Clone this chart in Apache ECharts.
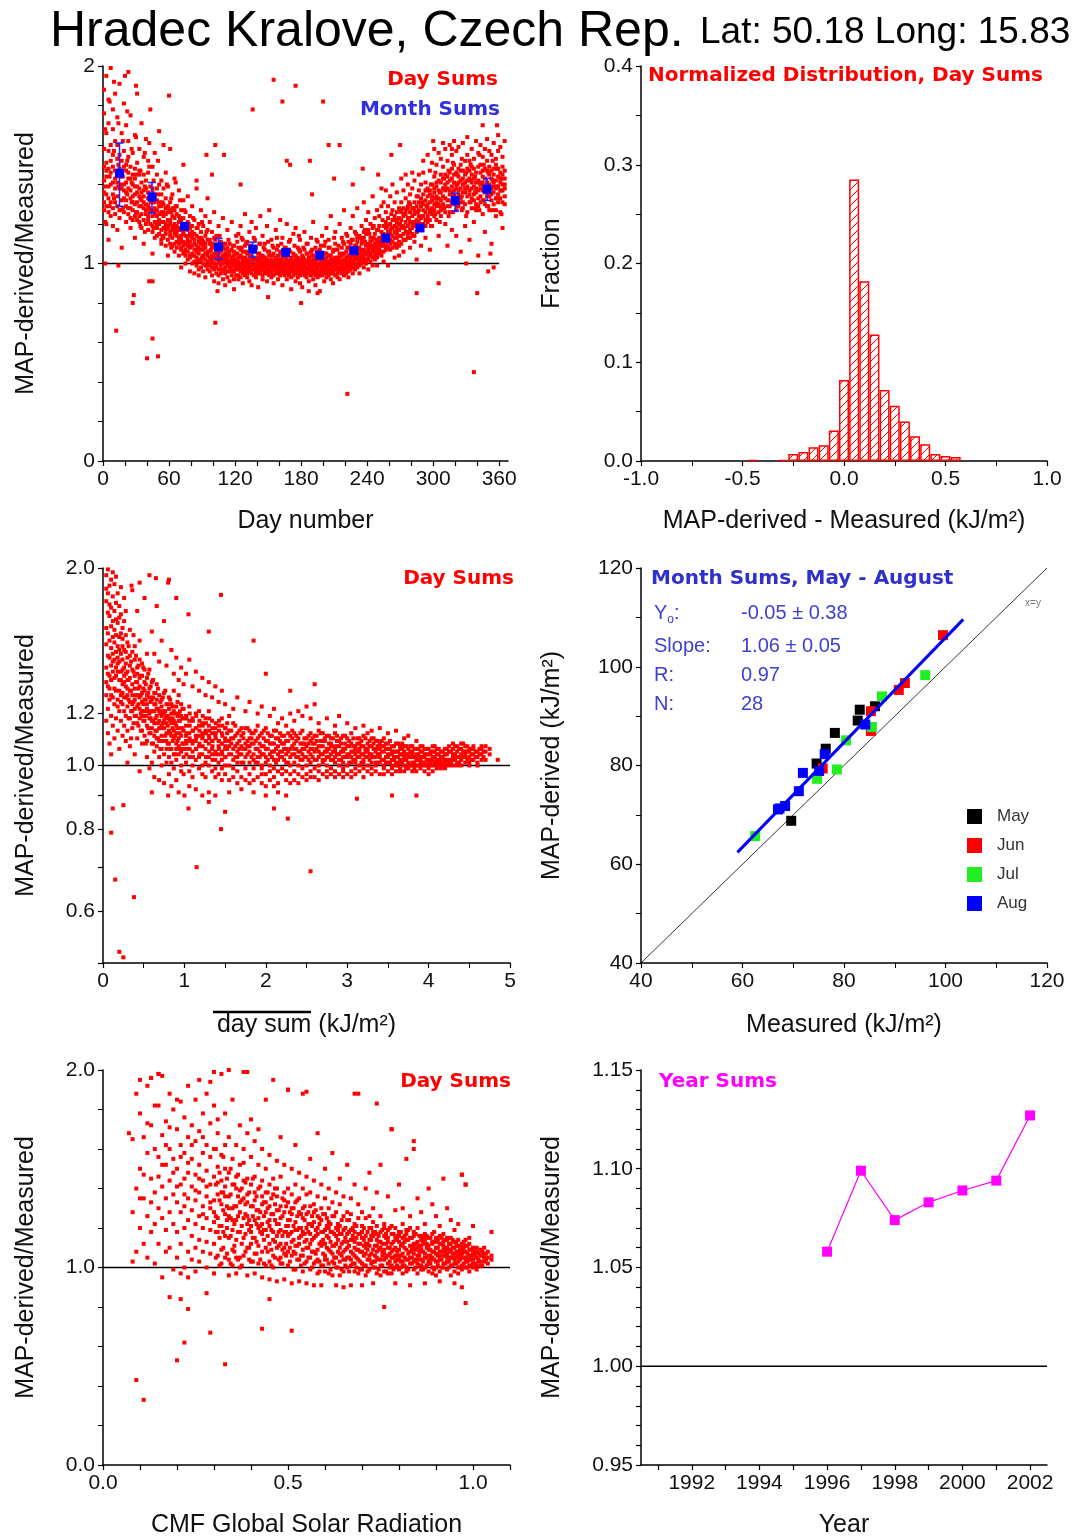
<!DOCTYPE html>
<html>
<head>
<meta charset="utf-8">
<script src="https://cdn.jsdelivr.net/npm/echarts@6/dist/echarts.min.js"></script>
<style>
  html, body { margin: 0; padding: 0; background: #fff; }
  #main { width: 1076px; height: 1540px; }
</style>
</head>
<body>
<div id="main"></div>
<script>
// ---- panel 1: ratio (x100) vs day number, day sums, columns "day:ratios"
const dayRatioCols = `
1:142,158,131,176,127,149,188,136 3:135,151,166,129,144,195,120,147 5:157,139,126,171,148,133,183,112
7:131,146,160,152,199,124,140 9:149,135,128,168,141,119,178,155 11:138,162,131,147,186,125,143
13:153,129,141,134,174,117,146,160 15:127,144,155,138,191,148,123 17:146,138,152,127,166,132,108,140
19:133,157,140,126,181,149,137 21:141,129,150,136,147,121,170,132 23:128,146,138,125,162,143,197,154
25:149,137,128,143,133,175,118,123 27:134,127,140,156,122,145,131 29:143,124,148,130,139,165,113,135
31:126,139,131,151,136,122,186 33:145,129,134,121,158,138,147,124 35:132,141,125,136,118,171,129
37:122,137,128,145,131,154,110,134 39:138,125,130,142,120,163,127 41:124,133,146,117,129,136,122,152
43:131,120,126,139,134,178,127 45:119,131,138,124,116,136,105,149 47:128,121,134,113,125,156,131
49:132,118,124,127,138,114,145,120 51:122,129,115,131,120,140,167,125 53:126,117,129,121,135,112,110,142
55:113,124,130,118,121,138,126 57:125,115,120,128,133,109,146,117 59:118,126,112,122,129,104,139
61:114,120,127,116,131,110,122,158 63:124,113,119,109,128,117,135 65:110,118,123,115,127,106,143,120
67:119,111,116,125,108,129,114 69:113,121,110,117,124,104,137,118 71:117,108,114,121,107,127,98,112
73:109,115,120,111,123,105,132,116 75:114,107,119,110,104,126,100 77:106,112,117,109,121,102,134,111
79:111,104,108,118,103,124,96,115 81:116,109,105,113,119,100,129 83:104,112,107,115,101,122,110,95
85:109,103,114,106,118,99,138 87:102,108,111,105,113,97,120,94 89:107,113,101,110,116,98,127
91:104,100,109,103,111,119,96,107 93:110,99,105,114,102,108,124,93 95:101,106,112,97,104,117,133
97:106,100,103,110,96,112,121,99 99:98,104,108,101,110,94,116 101:103,109,97,105,100,113,126,91
103:99,95,106,102,108,114,104 105:105,101,97,109,94,103,119,90 107:97,103,99,106,111,95,100
109:102,96,104,100,108,92,123 111:98,105,101,95,107,110,89,103 113:104,99,96,102,108,93,117
115:96,101,106,98,104,110,91,100 117:101,97,94,103,99,107,121 119:99,104,96,101,92,109,87,106
121:97,102,100,94,105,98,114 123:99,94,97,103,101,108,92,115 125:96,100,104,98,93,107,119
127:101,97,95,99,106,102,90,112 129:98,103,96,100,94,109,125 131:95,99,102,97,105,93,101,111
133:100,96,98,104,101,91,116 135:97,102,95,99,107,103,89,121 137:99,94,101,97,103,106,113
139:96,100,98,102,93,108,95,118 141:101,97,103,95,99,105,88 143:98,95,100,102,96,110,104,124
145:94,99,97,101,104,92,114 147:100,96,98,103,95,107,101,110 149:97,101,95,99,102,91,119
151:99,94,100,97,104,106,96,127 153:95,98,102,96,100,93,112 155:100,97,94,101,99,105,108,90
157:96,99,103,98,95,102,117 159:98,95,100,97,104,92,101,109 161:94,99,96,102,98,106,122
163:100,97,95,99,103,101,89,113 165:97,94,98,101,96,105,108 167:99,96,102,95,100,92,104,120
169:95,98,101,97,94,107,111 171:98,100,96,103,99,93,102,87 173:96,99,94,97,101,105,115
175:100,95,98,102,96,91,104,118 177:97,101,95,99,103,108,93 179:94,98,100,96,102,90,106,112
181:99,96,97,101,95,104,88 183:96,100,94,98,102,107,99,116 185:98,95,101,97,93,105,110
187:95,99,97,100,103,91,102,86 189:100,96,94,98,101,106,113 191:97,99,95,102,96,92,104,121
193:94,98,101,96,100,108,89 195:99,95,97,103,98,93,105,111 197:96,100,94,99,102,107,86
199:98,94,101,97,95,104,100,114 201:95,99,97,102,100,91,109 203:100,96,98,95,103,105,93,118
205:97,101,94,99,96,108,112 207:99,95,100,97,104,92,102,124 209:96,98,102,95,101,106,90
211:101,97,99,94,103,100,110,116 213:98,100,95,102,97,93,107 215:100,96,103,98,101,105,92,120
217:97,101,99,104,95,108,113 219:102,98,100,96,105,94,110,127 221:99,103,97,101,106,95,115
223:101,98,104,100,96,108,111,93 225:103,99,102,106,97,110,118 227:100,104,101,98,107,95,112,124
229:102,106,99,103,109,97,116 231:104,100,107,102,111,98,113,128 233:101,105,103,108,99,114,95
235:106,102,104,110,100,112,119 237:103,107,105,101,113,98,116,131 239:105,109,102,106,115,100,122
241:107,104,110,106,102,117,97,126 243:104,108,111,105,113,101,120 245:109,106,103,112,107,118,99,134
247:106,110,108,104,115,102,123 249:108,112,105,110,117,103,127,99 251:111,107,113,109,105,119,124
253:109,113,110,106,116,104,129,138 255:112,106,119,110,115,131,101 257:118,109,113,121,107,126,137
259:108,116,111,123,114,99,129 261:115,120,110,107,117,134,112 263:111,118,122,108,114,127,140
265:119,109,116,113,124,103,131 267:113,121,108,118,115,136,126 269:117,111,123,109,120,128,104
271:122,114,110,126,118,143,131 273:112,124,119,115,128,106,137 275:127,116,121,112,125,133,145
277:115,123,129,119,113,140,128 279:121,113,126,117,130,108,135 281:118,128,115,124,120,138,146
283:125,119,131,114,127,111,142 285:116,129,122,126,120,134,102 287:131,121,118,127,124,145,137
289:123,117,129,133,120,140,109 291:127,135,120,130,124,146,152 293:119,132,126,137,122,141,113
295:134,124,130,121,138,128,155 297:126,137,122,131,135,147,107 299:132,128,140,125,134,151,119
301:124,136,130,138,127,144,158 303:139,129,134,122,141,131,150 305:130,142,126,137,133,156,114
307:136,127,141,132,145,124,153 309:128,138,134,143,130,149,161 311:140,133,126,145,137,158,120
313:132,144,138,129,141,152,109 315:137,129,146,135,142,126,160 317:143,136,131,148,139,155,117
319:130,141,137,145,134,150,162 321:138,146,132,140,127,157,114 323:144,135,141,129,148,137,159
325:133,142,138,150,131,147,106 327:140,131,147,136,143,128,161 329:136,145,130,141,152,138,119
331:142,134,139,148,126,155,164 333:131,147,137,143,135,152,112 335:145,138,128,141,149,133,158
337:135,143,148,132,139,153,121 339:141,130,136,146,138,127,162 341:137,149,133,142,129,156,104
343:146,134,140,131,150,138,160 345:132,141,147,137,144,125,154 347:143,136,130,148,139,158,116
349:138,147,134,141,129,152,163 351:134,140,149,136,145,127,157 353:147,132,138,143,135,155,110
355:136,145,141,130,148,139,161 357:142,133,150,138,127,153,124 359:139,148,135,144,131,157,165
361:133,141,146,137,143,126,159 363:145,137,131,149,140,154,118 365:140,134,143,138,147,130,162`;
// second pass of day sums between the columns above
const dayRatioCols2 = `
2:168,139,121 6:144,182,129 10:157,133,192 14:139,171,150 18:162,128,144 22:135,177,152
26:158,131,141 30:126,164,145 34:147,119,133 38:139,156,116 42:128,149,161 46:142,118,127
50:121,135,152 54:131,114,125 58:119,140,128 62:126,108,133 66:117,129,141 70:111,123,132
74:118,106,127 78:109,120,114 82:115,104,123 86:107,118,101 90:112,103,121 94:105,116,99
98:110,102,107 102:104,112,98 106:108,101,114 110:103,110,97 114:106,112,101 118:102,109,96
122:105,111,100 126:108,103,113 130:110,101,106 134:104,109,100 138:102,107,112 142:105,100,110
146:108,103,99 150:101,106,111 154:109,104,100 158:102,107,113 162:105,101,110 166:103,108,99
170:106,101,112 174:104,100,109 178:102,107,114 182:108,99,103 186:101,105,110 190:104,100,107
194:106,102,112 198:103,99,109 202:101,105,111 206:104,100,108 210:107,102,113 214:103,101,109
218:105,100,111 222:103,108,114 226:106,101,112 230:104,109,115 234:107,103,113 238:111,105,117
242:109,115,104 246:119,107,113 250:106,117,111 254:115,109,122 258:108,119,113 262:125,111,118
266:116,122,110 270:120,127,114 274:112,125,118 278:131,116,123 282:121,128,114 286:126,119,134
290:131,117,124 294:122,137,129 298:140,127,119 302:125,146,133 306:136,121,129 310:128,143,138
314:147,132,124 318:135,126,151 322:129,140,145 326:153,134,127 330:138,124,146 334:131,150,142
338:144,136,128 342:127,141,155 346:150,132,139 350:136,146,129 354:142,127,152 358:133,148,139
362:125,143,137`;
const dayRatioOutliers = [
  [12, 0.66], [14, 0.99], [28, 0.84], [27, 0.8], [42, 0.91], [45, 0.91], [45, 0.62], [40, 0.52],
  [50, 0.53], [102, 0.7], [104, 0.86], [102, 1.6], [85, 1.42], [110, 1.55], [136, 1.78], [155, 1.93],
  [163, 1.82], [175, 1.9], [167, 1.52], [170, 1.5], [188, 1.52], [200, 1.82], [205, 1.6], [215, 1.6],
  [222, 0.34], [227, 1.4], [236, 1.48], [262, 1.55], [270, 1.6], [285, 0.85], [305, 0.9], [317, 1.58],
  [337, 0.45], [340, 0.85], [350, 0.96], [355, 0.98], [180, 0.8], [150, 0.83], [195, 0.85], [2, 1.0],
  [30, 1.9], [20, 1.95], [60, 1.85], [55, 1.6], [73, 1.5], [94, 1.55], [99, 1.45], [125, 1.4],
  [190, 1.35], [210, 1.43], [250, 1.45], [300, 1.62], [345, 1.7], [358, 1.7], [330, 1.0], [352, 1.05]
];
// month sums with error bars
const monthDay = [15, 44.5, 74, 105, 136, 166, 197, 228, 257, 288, 320, 349];
const monthRatio = [1.457, 1.337, 1.188, 1.084, 1.073, 1.056, 1.042, 1.065, 1.129, 1.18, 1.319, 1.377];
const monthLow = [1.29, 1.257, 1.17, 1.021, 1.031, 1.04, 1.03, 1.05, 1.115, 1.165, 1.267, 1.319];
const monthHigh = [1.61, 1.41, 1.205, 1.127, 1.108, 1.07, 1.055, 1.08, 1.143, 1.195, 1.356, 1.431];

// ---- panel 2: histogram of differences
const histCenter = [-0.45, -0.3, -0.25, -0.2, -0.15, -0.1, -0.05, 0.0, 0.05, 0.1, 0.15, 0.2, 0.25, 0.3, 0.35, 0.4, 0.45, 0.5, 0.55];
const histFrac = [0.001, 0.001, 0.007, 0.009, 0.014, 0.016, 0.031, 0.082, 0.285, 0.182, 0.128, 0.072, 0.056, 0.040, 0.025, 0.017, 0.007, 0.005, 0.004];

// ---- panel 3: ratio (x100) vs mean day sum, log y, columns "daySum:ratios"
const sumRatioCols = `
0.04:195,162,141,178,128,153,117,186,134 0.06:171,199,147,132,159,122,183,138,112
0.08:188,155,169,137,126,146,108,176,131 0.10:163,192,142,151,119,174,135,128,104
0.12:181,148,166,127,157,139,197,115,144 0.14:154,172,136,189,145,124,161,131,110
0.16:177,141,158,130,149,194,118,137,167 0.18:146,165,126,152,183,139,113,143,123
0.20:168,135,157,144,121,175,130,150,106 0.22:139,159,128,148,170,117,135,187,125
0.24:156,133,145,124,162,140,111,129,152 0.26:134,150,141,166,121,137,180,115,127
0.28:149,127,138,158,119,143,132,109,172 0.30:131,146,123,139,154,128,113,135,101
0.33:142,125,136,161,118,130,107,147 0.36:128,140,121,149,133,114,185,124
0.39:137,119,145,126,131,152,104,122 0.42:123,134,128,141,116,138,172,110
0.45:132,145,118,127,122,136,98,155 0.48:119,129,137,113,125,143,108,121
0.51:134,121,126,117,140,111,180,130 0.54:115,128,122,136,109,124,103,148
0.57:127,112,131,120,118,140,99,195 0.60:121,134,114,126,108,117,160,101
0.63:111,124,129,116,121,105,148,96 0.66:126,113,119,133,107,122,175,110
0.69:117,128,109,121,114,103,144,95 0.72:123,111,126,115,106,119,155,100
0.75:109,120,114,129,104,117,166,94 0.78:119,106,124,112,116,101,142,109
0.81:113,122,108,118,127,103,192,97 0.84:106,116,120,111,101,124,150,93
0.87:121,110,104,117,113,130,138,99 0.90:108,115,123,102,112,106,146,95
0.93:117,104,110,120,107,128,135,91 0.96:111,119,105,114,100,124,141,98
0.99:103,113,118,108,122,97,133,106 1.02:115,106,111,101,119,109,138
1.06:109,117,103,112,98,123,145,93 1.10:105,113,118,100,108,96,132
1.14:114,102,109,120,106,92,139,111 1.18:103,111,107,115,99,121,130
1.22:110,100,116,104,112,90,136,97 1.26:106,113,101,109,118,96,128
1.30:100,108,115,103,111,91,134,121 1.34:112,104,98,109,106,117,127
1.38:105,99,111,102,114,90,132,96 1.42:101,109,104,115,97,107,125
1.46:108,102,112,99,105,95,130,118 1.50:103,110,97,106,114,100,124
1.55:107,100,113,104,95,109,91,119 1.60:99,106,102,110,96,116,122
1.65:105,112,98,103,108,94,127,101 1.70:101,96,107,111,104,92,114
1.75:108,103,99,114,106,95,121 1.80:97,105,110,101,94,107,125,113
1.85:104,99,108,95,112,102,91 1.90:106,101,96,110,103,115,120
1.95:99,107,104,112,97,100,123,94 2.00:103,97,109,101,106,93,114,90
2.05:108,100,95,104,111,98,119 2.10:96,105,102,108,99,113,122,93
2.15:102,107,98,104,110,94,116,91 2.20:105,99,103,97,108,111,118
2.25:98,104,109,101,95,106,115,90 2.30:106,100,97,103,111,94,120
2.35:101,108,104,98,106,112,117,95 2.40:97,103,110,100,105,94,121
2.45:104,99,106,108,96,102,119,113 2.50:100,107,103,97,110,95,123
2.55:106,101,98,104,109,112,118,96 2.60:99,105,102,108,96,111,124
2.65:103,98,107,100,105,113,116,95 2.70:107,101,104,97,109,102,112
2.75:98,105,100,106,103,96,118,111 2.80:104,99,107,102,97,110,108
2.85:101,106,103,98,105,112,115,96 2.90:97,104,100,107,102,109,119
2.95:105,99,106,101,98,103,111,96 3.00:100,107,103,97,104,110,116
3.05:103,98,105,101,108,96,112 3.10:99,104,102,107,97,106,114,101
3.15:106,100,103,98,105,110,108 3.20:101,107,99,104,102,96,115,111
3.25:98,103,106,100,108,105,112 3.30:104,99,101,107,97,103,113,110
3.35:100,106,103,98,105,109,101 3.40:103,97,108,101,104,106,114
3.45:99,105,102,107,100,110,97 3.50:106,101,98,104,103,108,112
3.55:100,104,107,99,102,105,97 3.60:103,98,105,101,108,100,113
3.65:107,102,99,104,101,106,98 3.70:100,105,103,98,107,102,110
3.75:104,99,106,101,103,100,111 3.80:101,103,98,105,100,107,104
3.85:98,104,102,106,100,103,109 3.90:103,100,105,99,107,102,101
3.95:101,106,98,103,100,104 4.00:99,104,101,106,102,100,97
4.05:103,100,105,98,102,107 4.10:100,104,102,99,106,101
4.15:102,99,105,101,103,100 4.20:104,101,100,106,99,102
4.25:101,105,102,100,107 4.30:103,100,106,102,104,108
4.35:105,101,103,107,100 4.40:102,106,104,100,108
4.45:104,101,107,103,105 4.50:101,105,103,100,106
4.55:106,102,104,107 4.60:103,101,105,100 4.65:104,107,102,106
4.70:105,102,107 4.75:104,106 4.85:102`;
const sumRatioCols2 = `
0.315:135,118,152,126 0.345:121,144,130,110 0.375:139,125,116,158 0.405:128,147,119,134 0.435:115,131,142,124
0.465:137,120,128,113 0.495:124,141,117,131 0.525:119,133,126,108 0.555:129,114,138,121 0.585:112,125,132,118
0.615:127,117,108,135 0.645:118,129,113,124 0.675:110,122,131,116 0.705:125,114,120,106 0.735:116,127,109,121
0.765:121,111,118,130 0.795:108,124,115,119 0.825:117,106,126,112 0.855:123,114,109,118 0.885:111,120,104,116
0.915:119,109,114,125 0.945:106,117,121,112 0.975:114,122,108,118 1.025:112,104,118,108 1.065:106,115,110,120
1.105:117,109,103,113 1.145:110,119,106,114 1.185:104,113,117,108 1.225:115,107,111,119 1.265:109,116,103,112
1.305:113,105,118,110 1.345:107,114,109,102 1.385:116,110,104,112 1.425:106,113,117,109 1.465:111,104,108,115
1.505:114,109,103,107 1.525:106,112,116 1.575:110,104,113,108 1.625:103,111,107,115 1.675:109,113,104,106
1.725:112,106,110,101 1.775:104,109,114,107 1.825:110,103,108,112 1.875:106,113,101,109 1.925:111,105,108,103
1.975:104,110,113,107 2.025:109,102,106,112 2.075:103,108,111,105 2.125:110,106,101,113 2.175:105,109,112,103
2.225:108,102,106,111 2.275:112,105,109,101 2.325:104,110,107,113 2.375:109,103,111,106 2.425:102,108,105,112
2.475:110,106,103,108 2.525:105,111,108,102 2.575:108,103,110,106 2.625:111,106,102,109 2.675:104,109,107,112
2.725:109,102,105,110 2.775:106,111,103,108 2.825:102,107,110,105 2.875:109,104,107,111 2.925:105,110,102,108
2.975:108,103,106,111 3.025:104,109,107,101 3.075:107,102,110,105 3.125:103,108,105,110 3.175:109,104,101,107
3.225:105,110,106,103 3.275:102,107,109,104 3.325:108,103,106,110 3.375:104,109,101,107 3.425:107,102,105,109
3.475:103,108,106,101 3.525:106,101,104,109 3.575:102,107,105,103 3.625:105,100,108,103 3.675:101,106,104,108
3.725:104,99,107,102 3.775:100,105,103,107 3.825:103,101,106,99 3.875:106,102,104,100 3.925:101,105,103,107
3.975:104,100,106,102 4.025:102,105,101,104 4.075:105,101,103,107 4.125:101,104,106,102 4.175:103,100,105
4.225:106,102,104 4.275:102,105,101 4.325:104,107,102 4.375:106,103,101 4.425:103,105,108 4.475:105,102,107
4.525:102,104,106 4.575:105,103 4.625:104,106 4.675:103,105`;
const sumRatioOutliers = [
  [0.1, 0.79], [0.15, 0.67], [0.2, 0.52], [0.25, 0.51], [0.38, 0.63], [1.15, 0.7], [2.55, 0.69],
  [1.45, 0.8], [0.12, 0.86], [0.25, 0.87], [1.05, 0.86], [1.5, 0.85], [2.27, 0.83], [0.6, 0.91],
  [0.8, 0.9], [1.0, 0.9], [1.3, 0.88], [2.1, 0.86], [3.12, 0.89], [3.55, 0.9], [3.85, 0.9],
  [0.65, 1.93], [0.8, 1.9], [1.45, 1.82], [1.05, 1.7], [1.85, 1.55], [2.0, 1.38], [2.6, 1.33],
  [2.3, 1.3], [0.9, 1.8], [1.3, 1.6], [0.45, 1.9], [0.35, 1.88]
];

// ---- panel 4: month sums May-August
const mayPts = [[74.6, 80.4], [76.4, 83.4], [78.2, 86.6], [69.6, 68.8], [82.7, 89.1], [83.1, 91.3], [86.1, 92.0]];
const junPts = [[75.8, 79.4], [85.3, 87.0], [85.3, 91.0], [90.8, 95.3], [92.0, 96.7], [99.5, 106.4]];
const julPts = [[62.5, 65.7], [74.7, 77.3], [78.6, 79.2], [80.4, 85.1], [85.5, 87.8], [87.5, 94.0], [96.0, 98.3]];
const augPts = [[67.0, 71.1], [68.4, 71.8], [71.1, 74.8], [71.9, 78.5], [75.1, 78.9], [76.2, 82.3], [84.2, 88.3], [67.3, 71.3]];
const fitPts = [[59, 62.4], [103.5, 109.6]];
const diagPts = [[40, 40], [120, 120]];

// ---- panel 5: ratio (x100) vs CMF, columns "cmf:ratios"
const cmfRatioCols = `
0.08:165,128,103 0.09:140,188,108 0.10:178,120,150,195 0.11:135,166,112,147 0.12:192,126,158,105,173
0.13:145,118,172,133,196 0.14:160,182,122,138,102 0.15:130,182,112,156,146,198 0.16:152,197,125,95,167,141
0.17:119,174,135,162,108,152 0.18:144,188,110,171,128,160 0.19:155,122,180,99,137,148
0.20:170,133,150,118,185,141,105 0.21:156,112,184,142,128,97,162 0.22:137,176,120,158,100,145,131
0.23:148,192,108,135,166,124,95,153 0.24:116,162,141,104,172,129,155 0.25:139,110,185,122,147,98,164,134
0.26:126,195,145,103,169,114,152,138 0.27:166,120,144,178,108,131,158,127 0.28:113,149,188,125,100,162,136,141
0.29:142,107,173,130,194,119,156,133 0.30:123,160,97,146,182,112,134,128 0.31:151,118,137,175,106,143,168,125
0.32:109,198,132,121,157,144,102,138 0.33:136,127,178,150,105,162,116,141 0.34:148,104,126,166,96,136,115,130
0.35:119,185,142,109,155,130,101,124 0.36:131,146,114,162,97,124,105,140 0.37:105,139,128,172,118,152,100,133
0.38:153,115,199,135,106,125,160,144 0.39:126,168,110,145,133,96,122,137 0.40:142,103,175,121,156,131,112,118
0.41:115,134,164,107,146,124,97,138 0.42:129,152,120,170,111,140,102,125 0.43:108,144,132,160,122,95,136,117
0.44:138,185,119,101,150,128,110,133 0.45:124,112,157,94,142,131,103,121 0.46:145,195,118,127,106,137,100,114
0.47:110,136,154,122,93,129,140,116 0.48:131,166,105,146,119,102,125,112 0.49:118,138,152,128,94,110,134,107
0.50:140,190,116,101,124,133,108,121 0.51:106,127,150,137,92,118,113,130 0.52:133,162,111,123,99,142,107,119
0.53:115,148,128,104,135,93,120,112 0.54:125,188,109,140,118,98,130,106 0.55:137,103,146,120,92,127,114,110
0.56:112,155,131,105,138,122,99,117 0.57:128,144,108,123,91,132,102,115 0.58:104,168,136,117,126,97,120,109
0.59:130,142,113,101,124,91,111,118 0.60:119,150,106,135,98,127,112,104 0.61:109,140,123,97,115,130,102,120
0.62:126,158,111,103,133,118,96,107 0.63:100,138,120,128,91,112,105,116 0.64:121,145,107,132,117,96,110,103
0.65:113,136,98,126,104,119,90,108 0.66:105,152,124,110,117,100,128,113 0.67:127,135,101,119,91,108,114,104
0.68:110,142,122,98,113,106,118,102 0.69:132,188,104,117,97,125,109,112 0.70:102,128,115,91,121,108,99,118
0.71:116,140,107,125,101,112,96,110 0.72:99,148,120,111,104,126,114,106 0.73:123,130,103,116,92,109,118,100
0.74:108,138,114,97,121,105,111,117 0.75:118,152,101,126,110,96,113,104 0.76:104,122,116,98,80,109,120,107
0.77:113,136,106,119,97,102,115,110 0.78:97,170,121,108,112,101,117,105 0.79:120,129,103,115,92,110,106,100
0.80:106,142,113,99,118,104,109,116 0.81:115,130,101,122,107,97,112,103 0.82:100,155,117,109,104,114,98,119
0.83:111,126,105,115,91,102,108,120 0.84:118,160,99,107,112,103,116,110 0.85:102,135,113,120,106,97,110,104
0.86:109,128,104,116,99,111,101,114 0.87:114,122,100,107,92,112,105,117 0.88:103,140,111,98,115,106,109,102
0.89:117,132,105,100,112,108,97,113 0.90:100,126,113,107,103,115,110,96 0.91:108,121,98,112,104,93,116,106
0.92:113,145,102,109,100,106,117,111 0.93:105,130,115,99,110,103,107,114 0.94:101,124,108,112,96,105,115,109
0.95:110,119,104,98,113,107,92,102 0.96:106,122,100,111,103,108,114,97 0.97:112,147,99,105,109,101,90,107
0.98:103,142,108,100,111,82,105,114 0.99:109,115,101,106,98,112,104 1.00:104,121,107,100,110,102
1.01:101,108,105,99,110 1.02:106,103,109,101 1.03:103,110,105,107 1.04:108,102,105 1.05:118,106,104`;
const cmfRatioCols2 = `
0.305:142,118,126,105,160 0.315:115,134,148,121,101 0.325:129,110,156,138,118 0.335:120,145,107,131,124
0.345:137,116,125,102,150 0.355:111,131,142,122,108 0.365:126,104,136,118,147 0.375:134,121,112,140,101
0.385:117,143,127,108,132 0.395:124,110,138,119,104 0.405:131,115,103,126,145 0.415:107,122,136,113,129
0.425:128,118,104,141,121 0.435:114,133,126,102,119 0.445:123,108,138,116,130 0.455:109,127,119,135,101
0.465:132,113,124,105,140 0.475:118,104,129,122,111 0.485:126,135,109,116,102 0.495:112,121,131,106,118
0.505:124,103,117,128,110 0.515:108,130,114,121,99 0.525:119,111,126,104,134 0.535:127,106,116,120,101
0.545:113,124,102,131,117 0.555:105,118,128,110,122 0.565:121,100,114,126,108 0.575:116,129,107,119,103
0.585:103,122,112,125,98 0.595:118,107,127,101,114 0.605:110,121,104,116,125 0.615:122,99,113,108,118
0.625:105,117,126,102,111 0.635:119,108,100,122,114 0.645:112,124,106,117,99 0.655:101,115,120,109,104
0.665:118,105,111,124,98 0.675:107,120,102,114,116 0.685:115,100,109,121,105 0.695:103,117,112,99,108
0.705:120,106,114,101,111 0.715:109,118,98,112,104 0.725:114,102,116,107,120 0.735:100,111,106,118,103
0.745:116,104,109,99,113 0.755:106,119,101,112,108 0.765:112,98,115,105,117 0.775:103,110,107,120,100
0.785:117,105,113,99,109 0.795:101,114,108,116,104 0.805:111,103,118,106,100 0.815:105,116,101,110,113
0.825:114,99,107,119,104 0.835:102,111,115,105,109 0.845:109,104,100,117,112 0.855:116,106,111,101,108
0.865:103,113,108,115,99 0.875:110,101,105,112,116 0.885:106,115,102,109,104 0.895:113,99,108,104,118
0.905:101,110,114,106,103 0.915:108,104,100,112,115 0.925:114,106,110,102,108 0.935:103,112,105,109,100
0.945:110,101,107,114,105 0.955:105,113,102,108,111 0.965:111,104,109,100,106 0.975:102,108,113,105,110
0.985:107,100,104,111,103 0.995:104,109,106,101 1.005:108,102,106 1.015:103,107,104 1.025:106,101,108 1.035:104,107`;
const cmfRatioOutliers = [
  [0.09, 0.43], [0.11, 0.33], [0.22, 0.62], [0.2, 0.53], [0.29, 0.67], [0.33, 0.51], [0.43, 0.69],
  [0.51, 0.68], [0.18, 0.85], [0.21, 0.84], [0.23, 0.79], [0.28, 0.87], [0.45, 0.84], [0.13, 1.96],
  [0.15, 1.98], [0.3, 1.99], [0.34, 2.0], [0.39, 1.99], [0.5, 1.9], [0.55, 1.89], [0.68, 1.88],
  [0.74, 1.83], [0.78, 1.7], [0.84, 1.64], [0.97, 1.47], [0.98, 1.42], [0.07, 1.68], [0.1, 1.35]
];

// ---- panel 6: year sums
const years = [1996, 1997, 1998, 1999, 2000, 2001, 2002];
const yearRatio = [1.058, 1.099, 1.074, 1.083, 1.089, 1.094, 1.127];

// tick positions / labels
const dayTicks = [0, 20, 40, 60, 80, 100, 120, 140, 160, 180, 200, 220, 240, 260, 280, 300, 320, 340, 360];
const dayLabels = [0, 60, 120, 180, 240, 300, 360];
const logTicks = [0.5, 0.6, 0.7, 0.8, 0.9, 1.0, 1.2, 2.0];
const logLabels = [0.6, 0.8, 1.0, 1.2, 2.0];
const cmfTicks = [0, 0.1, 0.2, 0.3, 0.4, 0.5, 0.6, 0.7, 0.8, 0.9, 1.0, 1.1];
const cmfLabels = [0, 0.5, 1.0];
const yearTicks = [1991, 1992, 1993, 1994, 1995, 1996, 1997, 1998, 1999, 2000, 2001, 2002];
const yearLabels = [1992, 1994, 1996, 1998, 2000, 2002];
const yrTicks = [0.95, 0.96, 0.97, 0.98, 0.99, 1.0, 1.01, 1.02, 1.03, 1.04, 1.05, 1.06, 1.07, 1.08, 1.09, 1.1, 1.11, 1.12, 1.13, 1.14, 1.15];
const yrLabels = [0.95, 1.0, 1.05, 1.1, 1.15];

// ratios in the column strings are written x100
function parseCols(str) {
  const pts = [];
  str.trim().split(/\s+/).forEach(function (tok) {
    const parts = tok.split(':');
    parts[1].split(',').forEach(function (v) { pts.push([+parts[0], +v / 100]); });
  });
  return pts;
}

// hatch pattern for histogram
const hatch = document.createElement('canvas');
hatch.width = 8; hatch.height = 8;
const hctx = hatch.getContext('2d');
hctx.strokeStyle = '#ff0000';
hctx.lineWidth = 1;
hctx.beginPath();
hctx.moveTo(0, 8); hctx.lineTo(8, 0);
hctx.moveTo(-1, 1); hctx.lineTo(1, -1);
hctx.moveTo(7, 9); hctx.lineTo(9, 7);
hctx.stroke();

const FONT = 'Liberation Sans';
const RED = '#ff0000';
const axisLine = { show: true, onZero: false, lineStyle: { color: '#000', width: 1.5 } };
const tickStyle = { show: true, length: 5, lineStyle: { color: '#000', width: 1.2 } };
const labelStyle = { color: '#111', fontSize: 21, fontFamily: FONT, margin: 8 };
const nameStyle = { color: '#111', fontSize: 25, fontFamily: FONT };
const minor2 = { show: true, splitNumber: 2, length: 5, lineStyle: { color: '#000' } };
const minor5 = { show: true, splitNumber: 5, length: 5, lineStyle: { color: '#000' } };

function xAx(grid, o) {
  return Object.assign({
    type: 'value', gridIndex: grid, nameLocation: 'middle', nameGap: 48, nameTextStyle: nameStyle,
    axisLine: axisLine, splitLine: { show: false },
    axisTick: tickStyle, axisLabel: labelStyle
  }, o);
}
function yAx(grid, o) {
  return Object.assign({
    type: 'value', gridIndex: grid, nameLocation: 'middle', nameRotate: 90, nameGap: 64, nameTextStyle: nameStyle,
    axisLine: axisLine, splitLine: { show: false },
    axisTick: tickStyle, axisLabel: labelStyle
  }, o);
}
function ticks(vals) { return Object.assign({}, tickStyle, { customValues: vals }); }
function labels(vals, fmt) { return Object.assign({}, labelStyle, { customValues: vals, formatter: fmt }); }
const fix1 = function (v) { return (+v).toFixed(1); };
const fix2 = function (v) { return (+v).toFixed(2); };

function errBar(params, api) {
  const x = api.value(0);
  const p1 = api.coord([x, api.value(2)]);
  const p2 = api.coord([x, api.value(1)]);
  const st = { stroke: '#2222ff', lineWidth: 1.5 };
  return {
    type: 'group', children: [
      { type: 'line', shape: { x1: p1[0], y1: p1[1], x2: p2[0], y2: p2[1] }, style: st },
      { type: 'line', shape: { x1: p1[0] - 4, y1: p1[1], x2: p1[0] + 4, y2: p1[1] }, style: st },
      { type: 'line', shape: { x1: p2[0] - 4, y1: p2[1], x2: p2[0] + 4, y2: p2[1] }, style: st }
    ]
  };
}

function txt(x, y, text, o) {
  return {
    type: 'text', x: x, y: y, z: 100,
    style: Object.assign({ text: text, fill: RED, fontSize: 20, fontFamily: 'DejaVu Sans', fontWeight: 'bold', align: 'left', verticalAlign: 'middle' }, o)
  };
}
const stat = { fill: '#4040d0', fontSize: 20, fontFamily: FONT, fontWeight: 'normal' };

function dots(grid, data) {
  return { type: 'scatter', xAxisIndex: grid, yAxisIndex: grid, data: data, symbol: 'rect', symbolSize: 4,
    itemStyle: { color: RED, opacity: 1 }, z: 2 };
}
function month(name, data, color) {
  return { name: name, type: 'scatter', xAxisIndex: 3, yAxisIndex: 3, data: data, symbol: 'rect', symbolSize: 10,
    itemStyle: { color: color, opacity: 1 }, z: 2 };
}
function hline(grid, x0, x1, y) {
  return { type: 'line', xAxisIndex: grid, yAxisIndex: grid, data: [[x0, y], [x1, y]], symbol: 'none',
    lineStyle: { color: '#000', width: 1.3 }, z: 1 };
}

const chart = echarts.init(document.getElementById('main'), null, { renderer: 'canvas' });

const option = {
  animation: false,
  backgroundColor: '#fff',
  grid: [
    { left: 103, top: 66, width: 405, height: 395 },
    { left: 641, top: 66, width: 406, height: 395 },
    { left: 103, top: 568, width: 407, height: 395 },
    { left: 641, top: 568, width: 406, height: 395 },
    { left: 103, top: 1070, width: 407, height: 395 },
    { left: 641, top: 1070, width: 406, height: 395 }
  ],
  xAxis: [
    xAx(0, { name: 'Day number', min: 0, max: 368, axisTick: ticks(dayTicks), axisLabel: labels(dayLabels) }),
    xAx(1, { name: 'MAP-derived - Measured (kJ/m²)', min: -1, max: 1, interval: 0.5, minorTick: minor2,
      axisLabel: Object.assign({}, labelStyle, { formatter: fix1 }) }),
    xAx(2, { name: 'day sum (kJ/m²)', nameGap: 50, min: 0, max: 5, interval: 1, minorTick: minor2 }),
    xAx(3, { name: 'Measured (kJ/m²)', nameGap: 50, min: 40, max: 120, interval: 20, minorTick: minor2 }),
    xAx(4, { name: 'CMF Global Solar Radiation', min: 0, max: 1.1, axisTick: ticks(cmfTicks), axisLabel: labels(cmfLabels, fix1) }),
    xAx(5, { name: 'Year', min: 1990.5, max: 2002.5, axisTick: ticks(yearTicks),
      axisLabel: labels(yearLabels, function (v) { return String(v); }) })
  ],
  yAxis: [
    yAx(0, { name: 'MAP-derived/Measured', min: 0, max: 2, interval: 1, minorTick: minor5 }),
    yAx(1, { name: 'Fraction', nameGap: 76, min: 0, max: 0.4, interval: 0.1, minorTick: minor2,
      axisLabel: Object.assign({}, labelStyle, { formatter: fix1 }) }),
    yAx(2, { type: 'log', logBase: 10, name: 'MAP-derived/Measured', min: 0.5, max: 2,
      axisTick: ticks(logTicks), axisLabel: labels(logLabels, fix1) }),
    yAx(3, { name: 'MAP-derived (kJ/m²)', nameGap: 76, min: 40, max: 120, interval: 20, minorTick: minor2 }),
    yAx(4, { name: 'MAP-derived/Measured', min: 0, max: 2, interval: 1, minorTick: minor5,
      axisLabel: Object.assign({}, labelStyle, { formatter: fix1 }) }),
    yAx(5, { name: 'MAP-derived/Measured', nameGap: 76, min: 0.95, max: 1.15,
      axisTick: ticks(yrTicks), axisLabel: labels(yrLabels, fix2) })
  ],
  legend: {
    data: ['May', 'Jun', 'Jul', 'Aug'], orient: 'vertical', left: 962, top: 803,
    icon: 'rect', itemWidth: 15, itemHeight: 15, itemGap: 12, selectedMode: false,
    textStyle: { color: '#333', fontSize: 17, fontFamily: FONT, padding: [0, 0, 0, 10] }
  },
  series: [
    // panel 1
    hline(0, 0, 360, 1),
    dots(0, parseCols(dayRatioCols).concat(parseCols(dayRatioCols2), dayRatioOutliers)),
    { type: 'custom', xAxisIndex: 0, yAxisIndex: 0, renderItem: errBar, z: 3,
      data: monthDay.map(function (d, i) { return [d, monthLow[i], monthHigh[i]]; }), encode: { x: 0, y: [1, 2] } },
    { type: 'scatter', xAxisIndex: 0, yAxisIndex: 0, data: monthDay.map(function (d, i) { return [d, monthRatio[i]]; }),
      symbol: 'rect', symbolSize: 9, itemStyle: { color: '#0000ff', opacity: 1 }, z: 4 },
    // panel 2
    { type: 'bar', xAxisIndex: 1, yAxisIndex: 1, barWidth: 10,
      data: histCenter.map(function (c, i) { return [c, histFrac[i]]; }),
      itemStyle: { color: { image: hatch, repeat: 'repeat' }, borderColor: RED, borderWidth: 1.5 } },
    // panel 3
    hline(2, 0, 5, 1),
    dots(2, parseCols(sumRatioCols).concat(parseCols(sumRatioCols2), sumRatioOutliers)),
    // panel 4
    { type: 'line', xAxisIndex: 3, yAxisIndex: 3, data: diagPts, symbol: 'none', lineStyle: { color: '#000', width: 0.8 }, z: 1 },
    month('May', mayPts, '#000000'),
    month('Jun', junPts, '#ff0000'),
    month('Jul', julPts, '#22ee22'),
    month('Aug', augPts, '#0000ff'),
    { type: 'line', xAxisIndex: 3, yAxisIndex: 3, data: fitPts, symbol: 'none', lineStyle: { color: '#0000ff', width: 3 }, z: 3 },
    // panel 5
    hline(4, 0, 1.1, 1),
    dots(4, parseCols(cmfRatioCols).concat(parseCols(cmfRatioCols2), cmfRatioOutliers)),
    // panel 6
    hline(5, 1990.5, 2002.5, 1),
    { type: 'line', xAxisIndex: 5, yAxisIndex: 5, data: years.map(function (y, i) { return [y, yearRatio[i]]; }),
      symbol: 'rect', symbolSize: 10, itemStyle: { color: '#ff00ff', opacity: 1 }, lineStyle: { color: '#ff00ff', width: 1.2 }, z: 2 }
  ],
  graphic: [
    txt(50, 32, 'Hradec Kralove, Czech Rep.', { fill: '#000', fontSize: 50, fontFamily: FONT, fontWeight: 'normal' }),
    txt(700, 33, 'Lat: 50.18 Long: 15.83', { fill: '#000', fontSize: 37, fontFamily: FONT, fontWeight: 'normal' }),
    txt(498, 80, 'Day Sums', { align: 'right' }),
    txt(500, 110, 'Month Sums', { align: 'right', fill: '#3030dd' }),
    txt(648, 76, 'Normalized Distribution, Day Sums'),
    txt(514, 579, 'Day Sums', { align: 'right' }),
    txt(651, 579, 'Month Sums, May - August', { fill: '#3030cc' }),
    txt(654, 613, 'Y{s|o}:', Object.assign({}, stat, { rich: { s: { fontSize: 12, fill: '#4040d0', fontFamily: FONT, padding: [14, 0, 0, 0] } } })),
    txt(741, 613, '-0.05 ± 0.38', stat),
    txt(654, 646, 'Slope:', stat),
    txt(741, 646, '1.06 ± 0.05', stat),
    txt(654, 675, 'R:', stat),
    txt(741, 675, '0.97', stat),
    txt(654, 704, 'N:', stat),
    txt(741, 704, '28', stat),
    txt(1033, 603, 'x=y', { fill: '#777', fontSize: 10, fontFamily: FONT, fontWeight: 'normal', align: 'center' }),
    txt(511, 1082, 'Day Sums', { align: 'right' }),
    txt(659, 1082, 'Year Sums', { fill: '#ff00ff' }),
    { type: 'line', z: 100, shape: { x1: 213, y1: 1012, x2: 311, y2: 1012 }, style: { stroke: '#000', lineWidth: 2.5 } }
  ]
};

chart.setOption(option);
</script>
</body>
</html>
